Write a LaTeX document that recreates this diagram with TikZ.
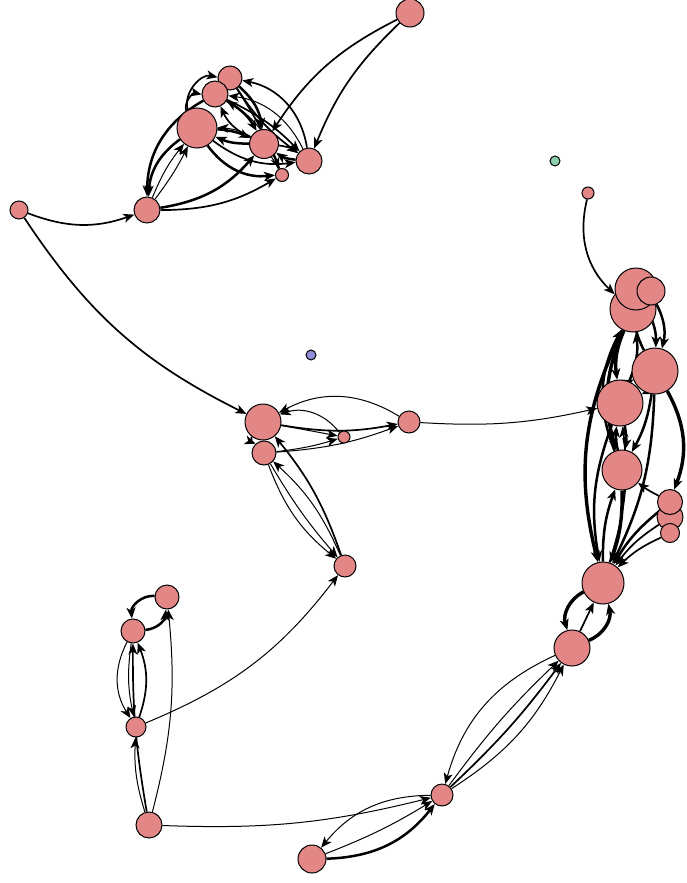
\documentclass[tikz,border=0pt]{standalone}
\usetikzlibrary{arrows.meta,backgrounds}
\definecolor{nodepink}{RGB}{226,134,134}
\definecolor{nodegreen}{RGB}{140,206,172}
\definecolor{nodeblue}{RGB}{146,142,218}

\begin{document}
\begin{tikzpicture}[
  x=1pt, y=-1pt,
  vtx/.style={circle, draw=black, line width=1pt, fill=nodepink,
              inner sep=0pt, minimum size=#1},
  ed/.style={-{Stealth[length=11pt,width=9pt,inset=3pt]}, line width=1pt},
  edm/.style={ed, line width=1.7pt},
  edt/.style={ed, line width=2.5pt},
  edx/.style={ed, line width=3.4pt}
]
\useasboundingbox (0,0) rectangle (686,883);

% top cluster
\node[vtx=28pt] (top) at (410,13) {};
\node[vtx=24pt] (ta) at (230,78) {};
\node[vtx=26pt] (tb) at (215,94) {};
\node[vtx=40pt] (tc) at (197,128) {};
\node[vtx=29pt] (td) at (264,144) {};
\node[vtx=26pt] (te) at (309,161) {};
\node[vtx=13pt] (tf) at (282,175) {};
\node[vtx=26pt] (tg) at (147,210) {};
\node[vtx=18pt] (tl) at (19,210) {};

% isolated
\node[vtx=10pt, fill=nodegreen] (iso1) at (555,161) {};
\node[vtx=10pt, fill=nodeblue] (iso2) at (311,355) {};

% right chain
\node[vtx=12pt] (rs) at (588,193) {};
\node[vtx=46pt] (r1b) at (633,309) {};
\node[vtx=42pt] (r1) at (636,289) {};
\node[vtx=28pt] (r2) at (651,291) {};
\node[vtx=46pt] (r3) at (655,371) {};
\node[vtx=46pt] (r4) at (620,403) {};
\node[vtx=40pt] (r5) at (622,470) {};
\node[vtx=26pt] (r7) at (670,517) {};
\node[vtx=25pt] (r6) at (670,502) {};
\node[vtx=19pt] (r8) at (670,533) {};
\node[vtx=42pt] (r9) at (603,583) {};
\node[vtx=36pt] (r10) at (572,648) {};
\node[vtx=22pt] (bp) at (442,795) {};
\node[vtx=28pt] (bq) at (312,859) {};
\node[vtx=26pt] (bm) at (149,825) {};

% middle
\node[vtx=36pt] (mh) at (263,422) {};
\node[vtx=24pt] (mi) at (264,453) {};
\node[vtx=12pt] (mj) at (344,437) {};
\node[vtx=22pt] (mk) at (409,422) {};
\node[vtx=22pt] (mn) at (345,566) {};

% lower left
\node[vtx=24pt] (lu) at (167,597) {};
\node[vtx=24pt] (lv) at (133,631) {};
\node[vtx=20pt] (lw) at (136,727) {};

\begin{scope}[on background layer]
% top cluster edges
\draw[edm] (top) to[bend right=15] (td);
\draw[edm] (top) to[bend right=12] (te);
\draw[edt] (tc) to[bend right=25] (tg);
\draw[edt] (tb) to[bend right=30] (tg);
\draw[ed] (tg) to[bend left=8] (tc);
\draw[ed] (tg) to[bend right=5] (tc);
\draw[edt] (tg) to[bend right=20] (td);
\draw[edm] (tg) to[bend right=15] (tf);
\draw[edt] (tc) to[bend left=10] (td);
\draw[edt] (td) to[bend left=12] (tc);
\draw[edt] (tb) to[bend left=15] (td);
\draw[edm] (td) to[bend left=20] (tb);
\draw[edt] (ta) to[bend left=20] (td);
\draw[edm] (ta) to[bend right=10] (te);
\draw[edm] (te) to[bend right=35] (ta);
\draw[ed] (te) to[bend right=28] (tb);
\draw[edt] (tc) to[bend right=30] (tf);
\draw[edm] (tc) to[bend right=22] (te);
\draw[edm] (tc) to[bend left=60] (ta);
\draw[edm] (tc) to[bend left=60] (tb);
\draw[edm] (td) to[bend left=15] (te);
\draw[edt] (te) to[bend left=15] (td);
\draw[ed] (tf) to[bend right=20] (tb);
\draw[edm] (tb) to[bend left=10] (te);
\draw[edm] (ta) to[bend left=5] (tf);
\draw[ed] (tf) to[bend right=30] (tc);
\draw[edm] (tl) to[bend right=20] (tg);
\draw[edm] (tl) to[bend right=15] (mh);

% right chain edges
\draw[edm] (rs) to[bend right=30] (r1b);
\draw[edx] (r1b) to[bend right=15] (r4);
\draw[edt] (r4) to[bend right=15] (r1b);
\draw[edt] (r1) to[bend left=15] (r3);
\draw[edt] (r3) to[bend left=15] (r1);
\draw[edt] (r2) to[bend left=20] (r3);
\draw[edm] (r3) to[bend left=20] (r4);
\draw[edt] (r4) to[bend left=20] (r3);
\draw[edx] (r1b) to[bend right=20] (r5);
\draw[edt] (r5) to[bend left=25] (r1b);
\draw[edt] (r4) to[bend left=10] (r5);
\draw[edt] (r5) to[bend left=10] (r4);
\draw[edt] (r3) to[bend left=10] (r5);
\draw[edt] (r4) to[bend right=15] (r9);
\draw[edx] (r1b) to[bend right=20] (r9);
\draw[edx] (r3) to[bend left=25] (r6);
\draw[edt] (r3) to[bend left=12] (r9);
\draw[edm] (r6) to[bend left=5] (r5);
\draw[edt] (r6) to[bend right=10] (r9);
\draw[edm] (r7) to[bend right=10] (r9);
\draw[edm] (r8) to[bend right=10] (r9);
\draw[edx] (r5) to[bend left=10] (r9);
\draw[edt] (r9) to[bend left=10] (r5);
\draw[edm] (r9) to[bend right=12] (r4);
\draw[edx] (r9) to[bend right=40] (r10);
\draw[edx] (r10) to[bend right=40] (r9);
\draw[edm] (r10) to (r9);
\draw[ed] (r10) to[bend right=25] (bp);
\draw[edm] (bp) to[bend right=5] (r10);
\draw[ed] (bp) to[bend right=15] (r10);
\draw[ed] (bp) to[bend left=5] (r10);
\draw[ed] (bp) to[bend right=25] (bq);
\draw[edt] (bq) to[bend right=25] (bp);
\draw[ed] (bq) to[bend right=5] (bp);
\draw[ed] (bm) to[bend right=8] (bp);

% middle edges
\draw[ed] (mk) to[bend right=30] (mh);
\draw[ed] (mj) to[bend right=35] (mh);
\draw[edm] (mh) to[bend right=10] (mk);
\draw[ed] (mh) to (mj);
\draw[ed] (mi) to[bend right=5] (mj);
\draw[ed] (mi) to[bend right=8] (mk);
\draw[edm] (mh) to[bend right=40] (mi);
\draw[ed] (mi) to[bend right=15] (mn);
\draw[ed] (mi) to[bend right=5] (mn);
\draw[ed] (mn) to[bend right=12] (mi);
\draw[edm] (mn) to[bend right=10] (mh);
\draw[ed] (mk) to[bend right=8] (r4);

% lower left edges
\draw[edt] (lu) to[bend right=50] (lv);
\draw[edt] (lv) to[bend right=40] (lu);
\draw[ed] (lv) to[bend right=30] (lw);
\draw[ed] (lv) to[bend right=10] (lw);
\draw[edm] (lw) to[bend right=20] (lv);
\draw[edm] (bm) to[bend left=5] (lv);
\draw[ed] (bm) to[bend right=10] (lu);
\draw[ed] (bm) to[bend left=10] (lw);
\draw[ed] (lw) to[bend right=15] (mn);
\end{scope}
\end{tikzpicture}
\end{document}
